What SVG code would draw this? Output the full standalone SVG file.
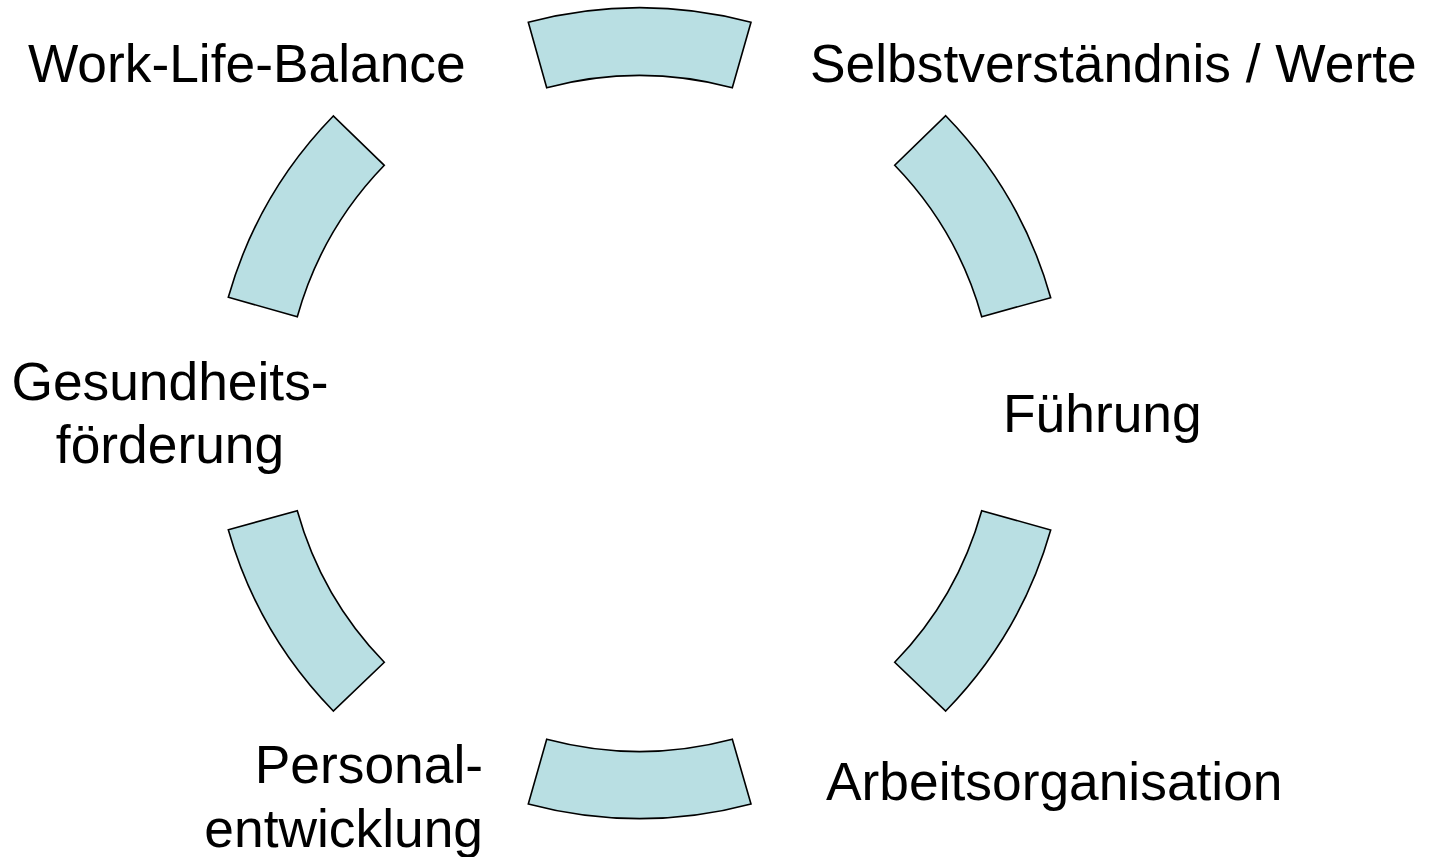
<svg xmlns="http://www.w3.org/2000/svg" width="1430" height="857" viewBox="0 0 1430 857">
<style>
.seg{fill:#B9DFE3;stroke:#000;stroke-width:1.6;stroke-linejoin:miter}
.lbl{font-family:"Liberation Sans",Arial,sans-serif;font-size:53.33px;fill:#000}
</style>
<rect width="1430" height="857" fill="#fff"/>
<g id="segments">
<g id="seg-top"><path class="seg" d="M 528.3 22.3 A 430 430 0 0 1 751 22.3 L 732.3 87.7 A 362 362 0 0 0 546.7 87.7 Z"/></g>
<g id="seg-right-top"><path class="seg" d="M 945.7 115.7 A 426.7 426.7 0 0 1 1050.7 297.7 L 981.7 316.7 A 355 355 0 0 0 894.7 165.3 Z"/></g>
<g id="seg-right-bottom"><path class="seg" d="M 1050.7 530 A 426.7 426.7 0 0 1 945.7 711 L 894.7 662.3 A 355 355 0 0 0 981.7 510.7 Z"/></g>
<g id="seg-bottom"><path class="seg" d="M 546.7 739.3 A 362 362 0 0 0 732.3 739.3 L 751 804 A 430 430 0 0 1 528.3 804 Z"/></g>
<g id="seg-left-bottom"><path class="seg" d="M 333.3 711 A 426.7 426.7 0 0 1 228.3 529.7 L 297.3 510.7 A 355 355 0 0 0 384.3 662.3 Z"/></g>
<g id="seg-left-top"><path class="seg" d="M 228.3 297.3 A 426.7 426.7 0 0 1 333.3 116 L 384.3 165.3 A 355 355 0 0 0 297.3 316.7 Z"/></g>
</g>
<g id="label-selbst"><text class="lbl" x="810" y="82">Selbstverständnis / Werte</text></g>
<g id="label-fuehrung"><text class="lbl" x="1003" y="432">Führung</text></g>
<g id="label-arbeit"><text class="lbl" x="826" y="800">Arbeitsorganisation</text></g>
<g id="label-personal"><text class="lbl" x="483" y="783" text-anchor="end">Personal-</text><text class="lbl" x="483" y="847" text-anchor="end">entwicklung</text></g>
<g id="label-gesundheit"><text class="lbl" x="170" y="400" text-anchor="middle">Gesundheits-</text><text class="lbl" x="170" y="463" text-anchor="middle">förderung</text></g>
<g id="label-wlb"><text class="lbl" x="28" y="82">Work-Life-Balance</text></g>
</svg>
